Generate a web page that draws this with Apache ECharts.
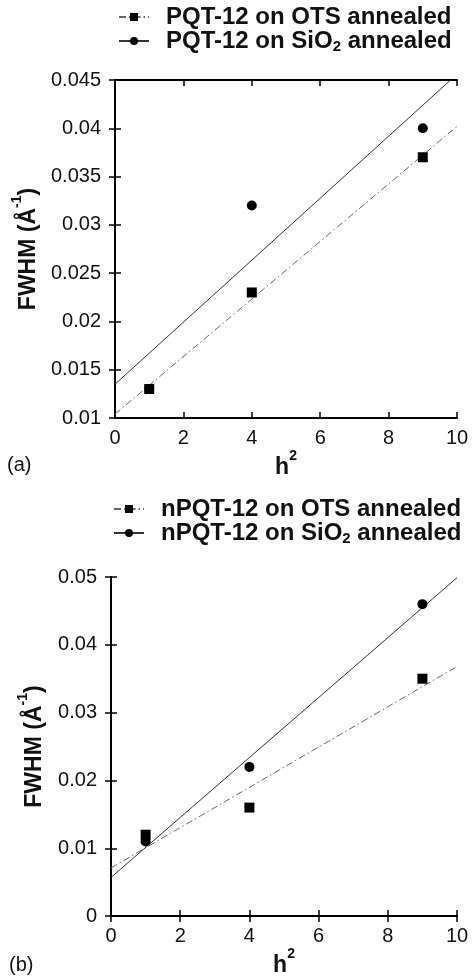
<!DOCTYPE html>
<html>
<head>
<meta charset="utf-8">
<script src="https://cdn.jsdelivr.net/npm/echarts@6/dist/echarts.min.js"></script>
<style>html,body{margin:0;padding:0;background:#fff}#c{width:472px;height:978px}</style>
</head>
<body>
<div id="c"></div>
<script>
// ---- data (a) ----
var xA_OTS = [1, 4, 9];
var yA_OTS = [0.013, 0.023, 0.037];
var xA_SiO2 = [1, 4, 9];
var yA_SiO2 = [0.013, 0.032, 0.040];
var fitX = [0, 10];
var fitA_OTS = [0.0104, 0.0402];
var fitA_SiO2 = [0.0135, 0.0456];
// ---- data (b) ----
var xB_OTS = [1, 4, 9];
var yB_OTS = [0.012, 0.016, 0.035];
var xB_SiO2 = [1, 4, 9];
var yB_SiO2 = [0.011, 0.022, 0.046];
var fitB_OTS = [0.0071, 0.0368];
var fitB_SiO2 = [0.0057, 0.0499];
// ---- labels ----
var namesA = ['PQT-12 on OTS annealed', 'PQT-12 on SiO2 annealed'];
var namesB = ['nPQT-12 on OTS annealed', 'nPQT-12 on SiO2 annealed'];
var xTicks = {min: 0, max: 10, interval: 2};
var yTicksA = {min: 0.01, max: 0.045, interval: 0.005};
var yTicksB = {min: 0, max: 0.05, interval: 0.01};

var FONT = '"Liberation Sans", Arial, Helvetica, sans-serif';
function zip(xs, ys) { return xs.map(function (x, i) { return [x, ys[i]]; }); }
function fitData(ys) { return fitX.map(function (x, i) { return {value: [x, ys[i]], symbol: 'none'}; }); }

var dashDot = [7, 3, 1.5, 3];
var tickStyle = {inside: true, length: 6, lineStyle: {color: '#000', width: 1.5}};
var lineAx = {lineStyle: {color: '#000', width: 2}};
var nameRich = {
  b: {fontSize: 23, fontWeight: 'bold', color: '#111', fontFamily: FONT, lineHeight: 30, verticalAlign: 'bottom'},
  sup: {fontSize: 14, fontWeight: 'bold', color: '#111', fontFamily: FONT, lineHeight: 16, verticalAlign: 'top'}
};

function xAxes(grid) {
  return [
    {gridIndex: grid, type: 'value', position: 'bottom', min: xTicks.min, max: xTicks.max, interval: xTicks.interval,
     axisLine: lineAx, axisTick: tickStyle, splitLine: {show: false},
     axisLabel: {fontSize: 20, color: '#111', fontFamily: FONT, margin: 10},
     name: '{b|h}{sup|2}', nameLocation: 'middle', nameGap: 30, nameTextStyle: {rich: nameRich}},
    {gridIndex: grid, type: 'value', position: 'top', min: xTicks.min, max: xTicks.max, interval: xTicks.interval,
     axisLine: lineAx, axisTick: tickStyle, splitLine: {show: false}, axisLabel: {show: false}}
  ];
}
function yAxes(grid, t) {
  return [
    {gridIndex: grid, type: 'value', position: 'left', min: t.min, max: t.max, interval: t.interval,
     axisLine: lineAx, axisTick: tickStyle, splitLine: {show: false},
     axisLabel: {fontSize: 20, color: '#111', fontFamily: FONT, margin: 14,
       formatter: function (v) { return String(parseFloat(v.toFixed(4))); }},
     name: '{b|FWHM (Å}{sup|-1}{b|)}', nameLocation: 'middle', nameGap: 65, nameRotate: 90,
     nameTextStyle: {rich: nameRich}},
    {gridIndex: grid, type: 'value', position: 'right', min: t.min, max: t.max, interval: t.interval,
     axisLine: lineAx, axisTick: tickStyle, splitLine: {show: false}, axisLabel: {show: false}}
  ];
}

function legendFmt(name) {
  var parts = name.split('SiO2');
  if (parts.length > 1) return '{g| }{t|' + parts[0] + 'SiO}{s|2}{t|' + parts[1] + '}';
  return '{g| }{t|' + name + '}';
}
var legRich = {
  g: {width: 12},
  t: {fontSize: 24, fontWeight: 'bold', color: '#111', fontFamily: FONT, lineHeight: 26},
  s: {fontSize: 15, fontWeight: 'bold', color: '#111', fontFamily: FONT, lineHeight: 14, verticalAlign: 'bottom'}
};
function legend(names, left, top) {
  return {data: names, orient: 'vertical', left: left, top: top, itemWidth: 30, itemHeight: 10, itemGap: 0,
    formatter: legendFmt, textStyle: {rich: legRich}, selectedMode: false};
}

function fitSeries(name, xi, yi, ys, solid) {
  return {type: 'line', name: name, xAxisIndex: xi, yAxisIndex: yi, data: fitData(ys),
    symbol: solid ? 'circle' : 'rect', symbolSize: solid ? 9 : 10, clip: true, silent: true,
    lineStyle: {color: solid ? '#333' : '#666', width: 1, type: solid ? 'solid' : dashDot},
    itemStyle: {color: '#000'}, z: 2};
}
function ptSeries(id, xi, yi, xs, ys, sym) {
  return {type: 'scatter', name: id, xAxisIndex: xi, yAxisIndex: yi, data: zip(xs, ys),
    symbol: sym, symbolSize: sym === 'rect' ? 10 : 10, itemStyle: {color: '#000', opacity: 1}, z: sym === 'rect' ? 4 : 3};
}

var option = {
  animation: false,
  backgroundColor: '#fff',
  textStyle: {fontFamily: FONT},
  title: [
    {text: '(a)', left: 2, top: 450, textStyle: {fontSize: 20, fontWeight: 'normal', color: '#111', fontFamily: FONT}},
    {text: '(b)', left: 4, top: 950, textStyle: {fontSize: 20, fontWeight: 'normal', color: '#111', fontFamily: FONT}}
  ],
  legend: [legend(namesA, 113, 0), legend(namesB, 108, 492)],
  grid: [
    {left: 115, top: 80, width: 342, height: 338},
    {left: 111, top: 577, width: 346, height: 342}
  ],
  xAxis: xAxes(0).concat(xAxes(1)),
  yAxis: yAxes(0, yTicksA).concat(yAxes(1, yTicksB)),
  series: [
    fitSeries(namesA[0], 0, 0, fitA_OTS, false),
    fitSeries(namesA[1], 0, 0, fitA_SiO2, true),
    ptSeries('a-sio2', 0, 0, xA_SiO2, yA_SiO2, 'circle'),
    ptSeries('a-ots', 0, 0, xA_OTS, yA_OTS, 'rect'),
    fitSeries(namesB[0], 2, 2, fitB_OTS, false),
    fitSeries(namesB[1], 2, 2, fitB_SiO2, true),
    ptSeries('b-sio2', 2, 2, xB_SiO2, yB_SiO2, 'circle'),
    ptSeries('b-ots', 2, 2, xB_OTS, yB_OTS, 'rect')
  ]
};
var chart = echarts.init(document.getElementById('c'), null, {renderer: 'canvas'});
chart.setOption(option);
</script>
</body>
</html>
